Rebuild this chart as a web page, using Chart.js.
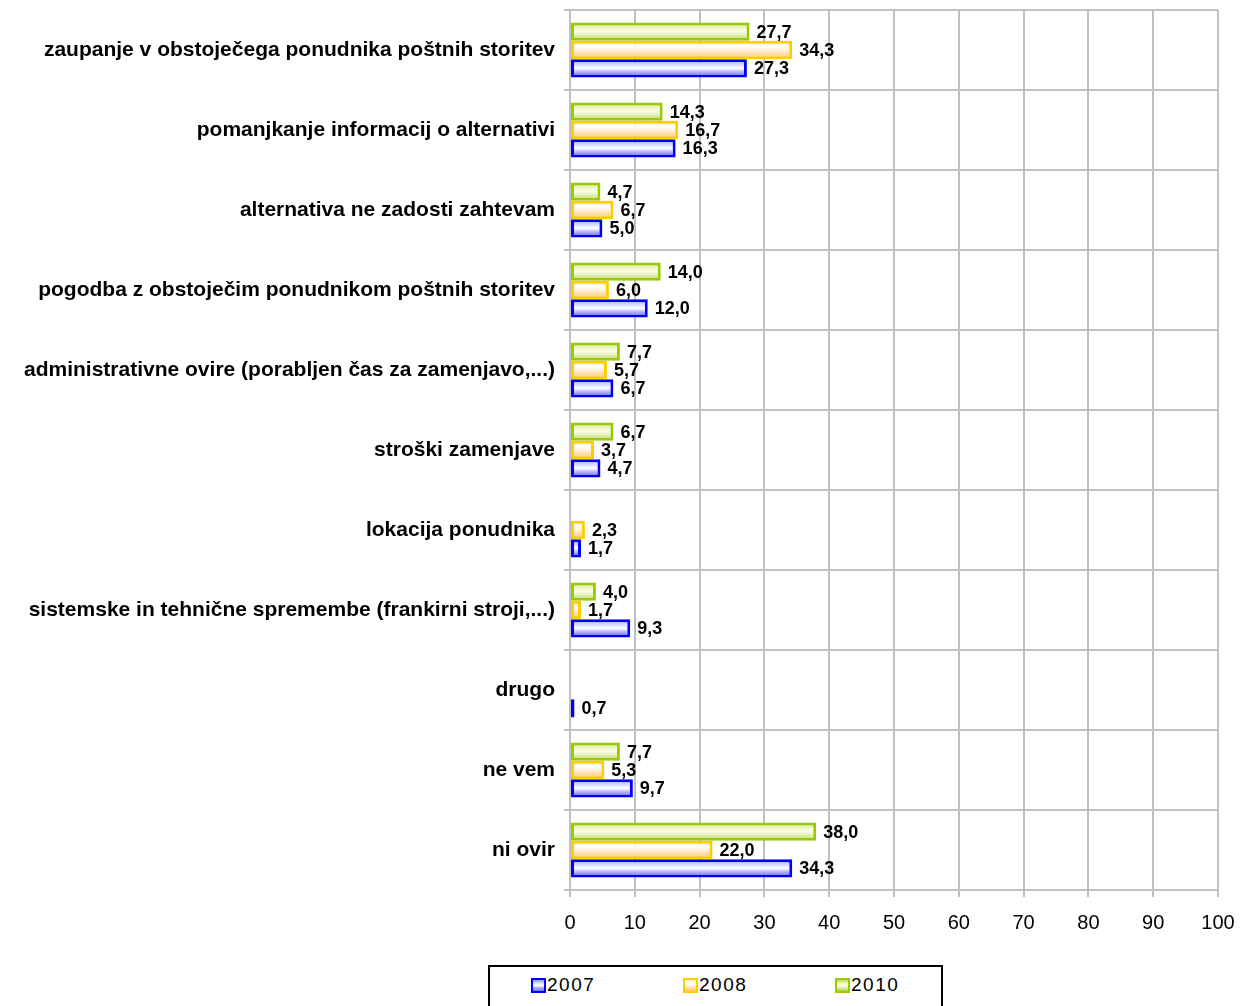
<!DOCTYPE html>
<html>
<head>
<meta charset="utf-8">
<script src="https://cdn.jsdelivr.net/npm/chart.js@4"></script>
<style>
  body { margin: 0; background: #fff; font-family: "Liberation Sans", Arial, sans-serif; }
  #wrap { position: absolute; left: 0; top: 0; width: 1242px; height: 960px; }
  #legend {
    position: absolute; left: 488px; top: 965px; width: 451px; height: 60px;
    border: 2px solid #000; box-sizing: content-box;
  }
  .item { position: absolute; top: 7px; font-size: 19px; letter-spacing: 1.5px; line-height: 22px; color: #000; display: flex; align-items: center; }
  .sw { width: 11px; height: 11px; border: 2.5px solid; margin-right: 1px; }
</style>
</head>
<body>
<div id="wrap"><canvas id="myChart"></canvas></div>
<div id="legend"></div>
<script>
// Ovire pri zamenjavi ponudnika poštnih storitev (v %)
const categories = [
  'zaupanje v obstoječega ponudnika poštnih storitev',
  'pomanjkanje informacij o alternativi',
  'alternativa ne zadosti zahtevam',
  'pogodba z obstoječim ponudnikom poštnih storitev',
  'administrativne ovire (porabljen čas za zamenjavo,...)',
  'stroški zamenjave',
  'lokacija ponudnika',
  'sistemske in tehnične spremembe (frankirni stroji,...)',
  'drugo',
  'ne vem',
  'ni ovir'
];
const years = ['2007', '2008', '2010'];
const values2007 = [27.3, 16.3, 5.0, 12.0, 6.7, 4.7, 1.7, 9.3, 0.7, 9.7, 34.3];
const values2008 = [34.3, 16.7, 6.7, 6.0, 5.7, 3.7, 2.3, 1.7, null, 5.3, 22.0];
const values2010 = [27.7, 14.3, 4.7, 14.0, 7.7, 6.7, null, 4.0, null, 7.7, 38.0];
const xTicks = [0, 10, 20, 30, 40, 50, 60, 70, 80, 90, 100];

// barve: obroba + pasovi prelivanja (zgoraj -> spodaj)
const styles = {
  '2007': { border: '#0000ff', stops: [[0, '#9c9cf4'], [0.3, '#dcdcfc'], [0.5, '#ffffff'], [0.7, '#acacf4'], [1, '#7a7ae8']] },
  '2008': { border: '#ffcc00', stops: [[0, '#ffefd4'], [0.35, '#ffffff'], [0.65, '#ffe2b6'], [1, '#ffc964']] },
  '2010': { border: '#99cc00', stops: [[0, '#bcdc60'], [0.3, '#f2f7cc'], [0.5, '#fbfce8'], [0.7, '#e2f0b4'], [1, '#acd444']] }
};

const gridColor = '#c0c0c0';
const fmt = v => v.toFixed(1).replace('.', ',');

// vrstni red: 2010 zgoraj, 2007 spodaj
const series = [
  { year: '2010', data: values2010 },
  { year: '2008', data: values2008 },
  { year: '2007', data: values2007 }
];

// Prelivanje v vsakem stolpcu posebej
const stripePlugin = {
  id: 'stripes',
  beforeDatasetsDraw(chart) {
    const ctx = chart.ctx;
    chart.data.datasets.forEach((ds, i) => {
      const st = styles[ds.label];
      chart.getDatasetMeta(i).data.forEach(bar => {
        const h = bar.height;
        const g = ctx.createLinearGradient(0, bar.y - h / 2, 0, bar.y + h / 2);
        st.stops.forEach(([o, c]) => g.addColorStop(o, c));
        bar.options = Object.assign({}, bar.options, { backgroundColor: g });
      });
    });
  }
};

// Vrednosti ob koncu stolpcev
const valueLabels = {
  id: 'valueLabels',
  afterDatasetsDraw(chart) {
    const ctx = chart.ctx;
    ctx.save();
    ctx.font = 'bold 18px "Liberation Sans", Arial, sans-serif';
    ctx.fillStyle = '#000';
    ctx.textBaseline = 'middle';
    ctx.textAlign = 'left';
    chart.data.datasets.forEach((ds, i) => {
      chart.getDatasetMeta(i).data.forEach((bar, j) => {
        const v = ds.data[j];
        if (v === null || v === undefined) return;
        ctx.fillText(fmt(v), bar.x + 7, bar.y + 1);
      });
    });
    ctx.restore();
  }
};

const ctx = document.getElementById('myChart').getContext('2d');
const myChart = new Chart(ctx, {
  type: 'bar',
  data: {
    labels: categories,
    datasets: series.map(s => ({
      label: s.year,
      data: s.data,
      backgroundColor: styles[s.year].stops[2][1],
      borderColor: styles[s.year].border,
      borderWidth: 3,
      borderSkipped: false,
      barPercentage: 1,
      categoryPercentage: 0.69
    }))
  },
  options: {
    indexAxis: 'y',
    responsive: true,
    maintainAspectRatio: false,
    animation: false,
    layout: { padding: { top: 10, right: 24, left: 0, bottom: 0 } },
    plugins: {
      legend: { display: false },
      tooltip: { enabled: false }
    },
    scales: {
      x: {
        min: 0,
        max: 100,
        afterFit: s => { s.height = 70; s.paddingLeft = 0; s.paddingRight = 0; },
        afterBuildTicks: s => { s.ticks = xTicks.map(v => ({ value: v })); },
        grid: { color: gridColor, lineWidth: 2, tickLength: 7, tickColor: gridColor },
        border: { color: gridColor, width: 2 },
        ticks: {
          color: '#000',
          padding: 14,
          font: { family: '"Liberation Sans", Arial, sans-serif', size: 20 }
        }
      },
      y: {
        afterFit: s => { s.width = 570; s.paddingTop = 0; s.paddingBottom = 0; },
        grid: { color: gridColor, lineWidth: 2, offset: true, tickLength: 6, tickColor: gridColor },
        border: { color: gridColor, width: 2 },
        ticks: {
          color: '#000',
          padding: 9,
          autoSkip: false,
          font: { family: '"Liberation Sans", Arial, sans-serif', size: 21, weight: 'bold' }
        }
      }
    }
  },
  plugins: [stripePlugin, valueLabels]
});

// Legenda
const legend = document.getElementById('legend');
const legendX = [41, 193, 345];
years.forEach((y, i) => {
  const st = styles[y];
  const item = document.createElement('div');
  item.className = 'item';
  item.style.left = legendX[i] + 'px';
  const sw = document.createElement('span');
  sw.className = 'sw';
  sw.style.borderColor = st.border;
  sw.style.background = 'linear-gradient(' + st.stops.map(([o, c]) => c + ' ' + Math.round(o * 100) + '%').join(', ') + ')';
  item.appendChild(sw);
  item.appendChild(document.createTextNode(y));
  legend.appendChild(item);
});
</script>
</body>
</html>
